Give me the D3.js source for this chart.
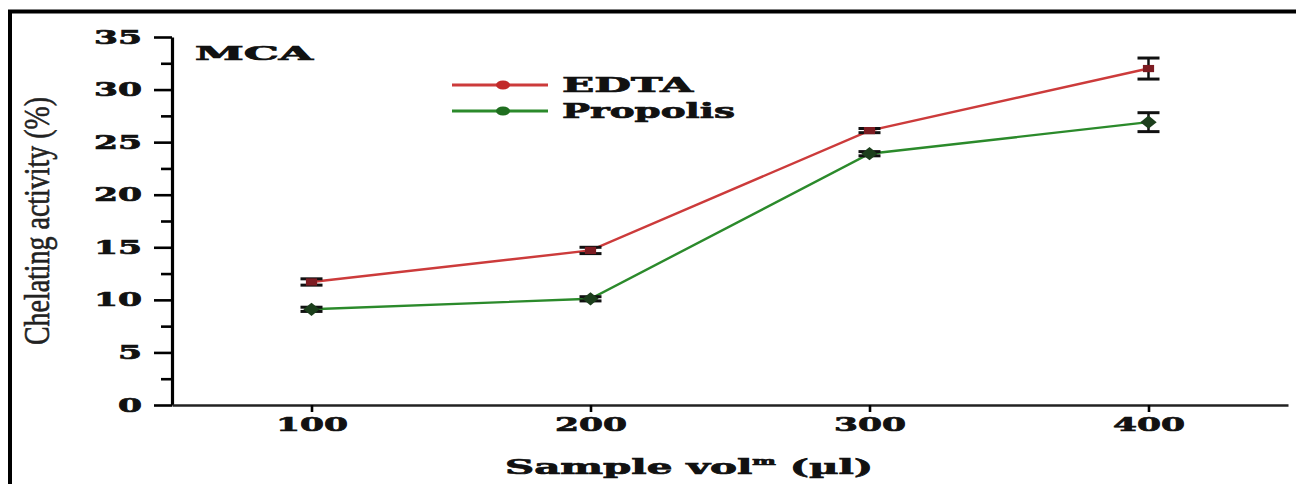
<!DOCTYPE html>
<html>
<head>
<meta charset="utf-8">
<script src="https://cdn.jsdelivr.net/npm/d3@7"></script>
<style>
  html, body { margin: 0; padding: 0; background: #fff; }
  svg { display: block; }
  .tick text { font-family: "DejaVu Serif", serif; font-weight: bold; }
</style>
</head>
<body>
<svg id="chart" width="1296" height="484"></svg>
<script>
// Sample volumes (µl) and metal chelating activity (%) with error margins
const volumes = [100, 200, 300, 400];
const edta = [11.7, 14.7, 26.1, 32.0];
const edtaErr = [0.3, 0.3, 0.2, 1.0];
const propolis = [9.1, 10.1, 23.9, 26.9];
const propolisErr = [0.2, 0.2, 0.2, 0.9];
const yMajorTicks = [0, 5, 10, 15, 20, 25, 30, 35];
const yMinorTicks = [2.5, 7.5, 12.5, 17.5, 22.5, 27.5, 32.5];
const seriesNames = ["EDTA", "Propolis"];

const svg = d3.select("#chart");
const W = 1296, H = 484;

const x = d3.scaleLinear().domain([50, 450]).range([172, 1288]);
const y = d3.scaleLinear().domain([0, 35]).range([405, 37]);

// Outer frame: top and left edges
svg.append("path")
  .attr("d", `M10,${H} L10,11.5 L${W},11.5`)
  .attr("fill", "none").attr("stroke", "#000").attr("stroke-width", 4);

// Heavy serif text helper
function heavy(sel, size) {
  sel.attr("font-family", "DejaVu Serif, serif").attr("font-weight", "bold")
    .attr("font-size", size).attr("fill", "#111")
    .attr("stroke", "#111").attr("stroke-width", 0.7)
    .attr("lengthAdjust", "spacingAndGlyphs");
  return sel;
}

// Y axis: major ticks with labels, minor ticks between
const yAxis = svg.append("g").attr("transform", `translate(${x.range()[0]},0)`)
  .call(d3.axisLeft(y).tickValues(yMajorTicks).tickSize(18).tickSizeOuter(0)
    .tickPadding(12).tickFormat(d3.format("d")));
yAxis.select(".domain").attr("stroke-width", 3.2);
yAxis.selectAll(".tick line").attr("stroke-width", 2.6);
heavy(yAxis.selectAll(".tick text"), 19)
  .attr("textLength", d => String(d).length * 24);

const yMinor = svg.append("g").attr("transform", `translate(${x.range()[0]},0)`)
  .call(d3.axisLeft(y).tickValues(yMinorTicks).tickSize(11).tickFormat(""));
yMinor.select(".domain").remove();
yMinor.selectAll(".tick line").attr("stroke-width", 2.6);

// X axis
const xAxis = svg.append("g").attr("transform", `translate(0,${y(0)})`)
  .call(d3.axisBottom(x).tickValues(volumes).tickSize(7).tickSizeOuter(0)
    .tickPadding(6).tickFormat(d3.format("d")));
xAxis.select(".domain").attr("stroke-width", 2.6).attr("stroke", "#222");
xAxis.selectAll(".tick line").attr("stroke-width", 2.6);
heavy(xAxis.selectAll(".tick text"), 19)
  .attr("textLength", d => String(d).length * 24);

// Axis titles
svg.append("text")
  .attr("transform", "translate(49,221) rotate(-90)")
  .attr("text-anchor", "middle")
  .attr("font-family", "Liberation Serif, serif")
  .attr("font-size", 36).attr("fill", "#222")
  .attr("stroke", "#222").attr("stroke-width", 0.6)
  .attr("textLength", 248).attr("lengthAdjust", "spacingAndGlyphs")
  .text("Chelating activity (%)");

const xTitle = heavy(svg.append("text").attr("x", 505).attr("y", 474), 20);
xTitle.append("tspan").text("Sample vol");
xTitle.append("tspan").attr("font-size", 11).attr("dy", -9).text("m");
xTitle.append("tspan").attr("dy", 9).text(" (µl)");
xTitle.attr("textLength", 368);

// Panel label
heavy(svg.append("text").attr("x", 195).attr("y", 60), 18)
  .attr("textLength", 118)
  .text("MCA");

// Series
const series = [
  { name: seriesNames[0], values: edta, err: edtaErr, line: "#cc3b3b", marker: "#7d1c22", shape: d3.symbolSquare, size: 64, sx: 1.4, sy: 0.9 },
  { name: seriesNames[1], values: propolis, err: propolisErr, line: "#2b8a2b", marker: "#1c3f1c", shape: d3.symbolDiamond, size: 80, sx: 1.7, sy: 0.8 }
];

const line = d3.line().x(d => x(d.v)).y(d => y(d.val));

series.forEach(s => {
  const pts = volumes.map((v, i) => ({ v, val: s.values[i], e: s.err[i] }));
  const g = svg.append("g");

  g.append("path").datum(pts)
    .attr("d", line)
    .attr("fill", "none").attr("stroke", s.line).attr("stroke-width", 2.4);

  // Error bars with caps
  const eb = g.selectAll(".err").data(pts).join("g");
  eb.append("line")
    .attr("x1", d => x(d.v)).attr("x2", d => x(d.v))
    .attr("y1", d => y(d.val - d.e)).attr("y2", d => y(d.val + d.e))
    .attr("stroke", "#111").attr("stroke-width", 2.5);
  [-1, 1].forEach(sign => {
    eb.append("line")
      .attr("x1", d => x(d.v) - 11).attr("x2", d => x(d.v) + 11)
      .attr("y1", d => y(d.val + sign * d.e)).attr("y2", d => y(d.val + sign * d.e))
      .attr("stroke", "#111").attr("stroke-width", 3);
  });

  g.selectAll(".mk").data(pts).join("path")
    .attr("transform", d => `translate(${x(d.v)},${y(d.val)}) scale(${s.sx},${s.sy})`)
    .attr("d", d3.symbol().type(s.shape).size(s.size))
    .attr("fill", s.marker);
});

// Legend
const legend = svg.append("g");
series.forEach((s, i) => {
  const ly = 85 + i * 26;
  legend.append("line")
    .attr("x1", 452).attr("x2", 548).attr("y1", ly).attr("y2", ly)
    .attr("stroke", s.line).attr("stroke-width", 3);
  legend.append("ellipse")
    .attr("cx", 503).attr("cy", ly).attr("rx", 7).attr("ry", 4.5)
    .attr("fill", i === 0 ? "#c22a2a" : "#1f6e1f");
  heavy(legend.append("text").attr("x", 562).attr("y", ly + 7), 20)
    .attr("textLength", i === 0 ? 131 : 173)
    .text(s.name);
});
</script>
</body>
</html>
